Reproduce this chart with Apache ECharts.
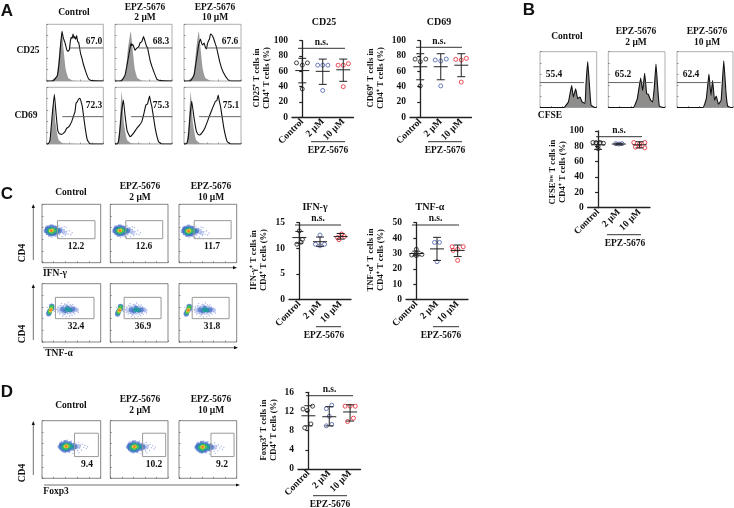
<!DOCTYPE html>
<html><head><meta charset="utf-8">
<style>html,body{margin:0;padding:0;background:#fff}#c{width:734px;height:508px}</style>
<script src="https://cdn.jsdelivr.net/npm/echarts@6/dist/echarts.min.js"></script>
</head><body><div id="c"></div>
<script>
// ---------- data ----------
const groupLabels = ['Control','2 μM','10 μM'];
const groupColors = ['#1a1a1a','#4a5cab','#e8202c'];
// histogram curves: [fluorescence, count]
const cd25Stim = [
 [[0,0],[20,1],[32,16],[38,61],[42,111],[46,149],[50,129],[53,120],[56,111],[60,95],[63,89],[68,93],[71,120],[74,131],[77,128],[79,141],[82,128],[84,133],[87,125],[90,136],[93,118],[96,116],[102,81],[106,68],[110,51],[118,26],[126,6],[135,1],[170,0]],
 [[0,0],[20,1],[30,18],[38,60],[45,100],[48,112],[50,106],[53,110],[55,105],[60,92],[64,98],[68,100],[72,106],[75,115],[80,118],[85,133],[90,118],[94,104],[97,100],[105,60],[110,44],[115,30],[125,5],[135,1],[170,0]],
 [[0,0],[20,1],[30,18],[38,70],[44,110],[49,126],[53,112],[56,108],[60,114],[64,100],[67,96],[70,112],[73,120],[76,126],[79,141],[83,138],[87,131],[92,116],[97,101],[107,56],[117,26],[132,3],[140,0],[170,0]]];
const cd25Iso = [
 [[12,0],[30,16],[38,91],[46,149],[50,101],[57,36],[65,9],[80,1],[170,0]],
 [[12,0],[30,16],[38,91],[47,149],[52,101],[59,36],[67,9],[82,1],[170,0]],
 [[10,0],[28,16],[36,91],[44,149],[49,101],[56,36],[64,9],[80,1],[170,0]]];
const cd69Stim = [
 [[0,0],[5,1],[10,12],[17,92],[23,149],[28,92],[33,42],[36,34],[40,30],[45,29],[50,32],[55,37],[60,47],[67,52],[75,67],[80,82],[85,97],[88,122],[92,127],[96,135],[100,137],[103,128],[107,112],[115,52],[122,12],[130,1],[170,0]],
 [[0,0],[8,1],[13,25],[19,92],[25,132],[30,85],[36,40],[45,22],[55,32],[65,47],[72,55],[80,67],[86,90],[92,117],[97,120],[103,144],[106,128],[110,112],[120,47],[130,7],[140,0],[170,0]],
 [[0,0],[8,1],[13,20],[18,85],[23,129],[29,85],[36,42],[41,30],[47,27],[54,34],[62,47],[70,68],[77,87],[87,112],[94,128],[98,130],[102,147],[105,130],[109,112],[119,47],[129,7],[140,0],[170,0]]];
const cd69Iso = [
 [[8,0],[15,60],[21,135],[27,60],[36,12],[50,2],[170,0]],
 [[8,0],[14,60],[20,157],[27,60],[36,12],[50,2],[170,0]],
 [[8,0],[14,60],[20,157],[27,60],[36,12],[50,2],[170,0]]];
const cfseCurves = [
 [[0,0],[72,0],[85,17],[90,42],[95,67],[100,32],[107,57],[113,27],[120,32],[126,17],[135,12],[138,72],[143,140],[148,72],[153,7],[165,0],[170,0]],
 [[0,0],[75,0],[87,27],[97,90],[103,52],[109,104],[115,42],[120,40],[127,22],[133,17],[138,62],[143,132],[148,62],[153,4],[165,0],[170,0]],
 [[0,0],[79,0],[89,27],[97,102],[103,37],[108,82],[114,22],[119,35],[126,10],[134,22],[142,142],[149,42],[154,4],[165,0],[170,0]]];
const cd25Pct = ['67.0','68.3','67.6'];
const cd69Pct = ['72.3','75.3','75.1'];
const cfsePct = ['55.4','65.2','62.4'];
const ifnPct = ['12.2','12.6','11.7'];
const tnfPct = ['32.4','36.9','31.8'];
const foxPct = ['9.4','10.2','9.2'];
// flow density points, by density level (faint dots, halo, blue, teal, green, yellow, orange)
const ifnCloud = [
 [[8,92],[12,104],[14,86],[18,110],[20,80],[24,112],[30,76],[34,112],[40,108],[42,80],[46,100],[50,110],[52,84],[56,92],[58,104],[62,88],[66,100],[70,82],[74,94],[78,86],[82,96],[86,84],[90,90],[66,108],[72,106],[48,76],[60,78]],
 [[10,96],[16,106],[28,110],[40,104],[50,90],[56,100],[62,94],[68,90],[24,84],[38,84]],
 [[14,96],[16,102],[18,90],[20,102],[26,86],[28,106],[32,88],[36,88],[38,104],[44,92],[46,98],[52,96]],
 [[20,96],[23,92],[25,100],[28,90],[28,101],[34,94],[38,97],[44,96]],
 [[23,96],[29,92],[32,99],[36,96]],
 [[26,96],[30,97]],
 [[28,96]]];
const tnfCloud = [
 [[44,98],[47,90],[48,106],[52,84],[54,110],[56,94],[58,116],[60,88],[62,78],[64,108],[66,82],[68,114],[70,88],[72,76],[74,110],[76,84],[78,118],[80,106],[82,78],[84,112],[86,84],[88,108],[90,80],[92,112],[94,88],[96,106],[98,84],[100,100],[102,92],[105,96],[108,88],[14,88],[16,104],[34,112],[36,100],[38,92],[40,108]],
 [[50,98],[56,92],[60,104],[66,88],[72,108],[80,90],[86,104],[92,92],[98,100],[104,96],[18,86],[32,108]],
 [[62,98],[70,94],[76,102],[84,96],[92,98],[20,84],[22,92],[28,108],[30,100]],
 [[74,98],[82,97],[22,88],[24,94],[27,100],[30,106]],
 [[23,90],[25,96],[27,102],[29,105]],
 [[25,94],[27,98]],
 [[26,96]]];
const foxCloud = [
 [[50,96],[54,88],[54,106],[58,112],[60,82],[66,114],[70,78],[76,116],[82,80],[88,114],[94,84],[96,108],[100,90],[102,102],[106,84],[108,110],[112,92],[114,100],[118,86],[120,104],[124,94],[128,100],[132,90],[136,96],[110,78],[92,76]],
 [[52,96],[58,106],[70,110],[82,104],[92,90],[98,102],[104,94],[110,98],[66,84],[80,84]],
 [[56,96],[58,101],[60,90],[62,102],[68,86],[70,108],[74,88],[78,88],[82,106],[88,92],[92,100],[98,96]],
 [[62,96],[65,92],[67,101],[70,90],[70,102],[78,94],[82,100],[88,96]],
 [[66,96],[72,92],[74,101],[80,97]],
 [[70,97],[74,97]],
 [[72,97]]];
const ifnShift = [[0,0],[1,0],[1,-1]];
const tnfShift = [[0,0],[2,-1],[2,-1]];
const foxShift = [[0,0],[1,-1],[0,-2]];
// dot plots: offset from the group centre, value
const cd25Pts = [[[-.28,71],[0,68],[.25,71],[0,37]],[[-.25,68],[0,68],[.25,68],[0,35]],[[-.25,68],[0,68],[.25,70],[0,40]]];
const cd25Mean = [61,60,62], cd25Low=[45,43,47], cd25High=[77,76,76];
const cd69Pts = [[[-.25,76],[0,72.6],[.27,76],[0,41]],[[-.27,74.8],[0,73.5],[.27,76],[0,41]],[[-.27,75.6],[0,74.8],[.25,77],[0,46]]];
const cd69Mean = [66,66,68], cd69Low=[49,49,53], cd69High=[83,83,83];
const cfsePts = [[[-.25,85],[-.1,85],[.1,85],[.26,84],[0,77],[0,80]],[[-.15,83.5],[0,83],[.15,83.5]],[[-.28,85],[.25,85],[-.2,79],[.25,78],[0,80],[0,83]]];
const cfseMean = [82,83,82], cfseLow=[76,82,78], cfseHigh=[86,84,86];
const ifnPts = [[[0,13.4],[.15,11.75],[-.12,10.8],[.08,11.2]],[[0,12.6],[-.22,10.8],[0,10.5],[.22,10.8]],[[.04,12.8],[-.15,12.1],[.18,12.3],[-.08,11.7]]];
const ifnMean = [12.1,11.3,12.3], ifnLow=[11,10.4,11.8], ifnHigh=[13.3,12.2,12.9];
const tnfPts = [[[0,32.7],[-.22,29],[0,28.6],[.27,29.4],[0,30]],[[-.12,37.2],[.12,37.2],[0,24.7]],[[-.27,34.4],[.27,34.4],[0,32.7],[-.22,32],[0,25.5]]];
const tnfMean = [30,33,32], tnfLow=[28.5,25.5,28], tnfHigh=[31.5,40.5,35.5];
const foxPts = [[[-.26,12.5],[-.05,12.2],[.2,13.1],[.12,9.4],[-.18,8.6]],[[-.14,12.6],[.12,13.3],[0,11],[.12,9.3],[-.14,9]],[[-.24,13.1],[0,13.1],[.25,13.1],[.16,10.6],[-.12,9.9]]];
const foxMean = [11.1,10.9,11.9], foxLow=[9,9,10], foxHigh=[13.2,13,13.4];

// ---------- helpers ----------
const SERIF='"Liberation Serif"';
const grid=[],xAxis=[],yAxis=[],series=[],graphic=[];
function text(x,y,s,size=9.5,rot=0,family=SERIF,anchor='center'){
  graphic.push({type:'text',x,y,rotation:rot,silent:true,style:{text:s,fill:'#111',textAlign:anchor,textVerticalAlign:'middle',font:`bold ${size}px ${family}`}});
}
function seg(x0,y0,x1,y1,w=1,c='#222'){
  graphic.push({type:'line',silent:true,shape:{x1:x0,y1:y0,x2:x1,y2:y1},style:{stroke:c,lineWidth:w}});
}
function arrow(x0,y0,x1,y1){
  seg(x0,y0,x1,y1,.7,'#333');
  const up=x0===x1;
  const pts=up?[[x1,y1-2],[x1-1.6,y1+2],[x1+1.6,y1+2]]:[[x1+2,y1],[x1-2,y1-1.6],[x1-2,y1+1.6]];
  graphic.push({type:'polygon',silent:true,shape:{points:pts},style:{fill:'#111'}});
}
function box(b,max,interval,border){
  const i=grid.length;
  grid.push({show:true,left:b[0],top:b[1],width:b[2]-b[0],height:b[3]-b[1],borderColor:border,borderWidth:.8,backgroundColor:'#fff'});
  const ax={gridIndex:i,type:'value',min:0,max,interval,splitLine:{show:false},axisLabel:{show:false},
    axisLine:{show:false},axisTick:{show:true,inside:true,length:1.5,lineStyle:{color:'#555',width:.6}}};
  xAxis.push({...ax});yAxis.push({...ax});
  return {xAxisIndex:xAxis.length-1,yAxisIndex:yAxis.length-1};
}
function histo(b,curve,iso,gate,pct,pctPos,fillCurve){
  const a=box(b,170,34,'#999');
  if(iso) series.push({type:'line',...a,data:iso,symbol:'none',smooth:.15,lineStyle:{width:0},areaStyle:{color:'#9b9b9b',opacity:1},z:2});
  series.push({type:'line',...a,data:curve,symbol:'none',smooth:.1,lineStyle:{color:'#111',width:1.1},
     areaStyle:fillCurve?{color:'#8f8c8c',opacity:1}:undefined,z:3});
  series.push({type:'line',...a,data:gate,symbol:'none',lineStyle:{color:'#555',width:.9},z:4});
  text(pctPos[0],pctPos[1],pct,9.5);
}
const levelStyle=[[1.3,'#7f92d8',.75],[4.5,'#94a6e4',.5],[5,'#3f6ac4',.7],[4.6,'#1f9c9c',.9],[4,'#45bf55',1],[3.6,'#e6d63a',1],[2.8,'#f0802c',1]];
function flow(b,cloud,shift,gate,pct,pctPos){
  const a=box(b,175,35,'#666');
  cloud.forEach((pts,l)=>{
    series.push({type:'scatter',...a,symbolSize:levelStyle[l][0],itemStyle:{color:levelStyle[l][1],opacity:levelStyle[l][2]},
      data:pts.map(p=>[p[0]+shift[0],p[1]+shift[1]]),z:3+l});
  });
  const [x0,x1,y0,y1]=gate;
  series.push({type:'line',...a,data:[[x0,y0],[x1,y0],[x1,y1],[x0,y1],[x0,y0]],symbol:'none',lineStyle:{color:'#999',width:1},z:11});
  text(pctPos[0],pctPos[1],pct,9.5);
}
function dots(px,yMax,yInt,pts,mean,low,high){
  const i=grid.length;
  grid.push({left:px[0],top:px[1],width:px[2]-px[0],height:px[3]-px[1]});
  xAxis.push({gridIndex:i,type:'category',data:groupLabels,position:'bottom',
    axisLine:{lineStyle:{color:'#222',width:1.3}},axisTick:{alignWithLabel:true,length:3,lineStyle:{color:'#222',width:1.2}},
    axisLabel:{rotate:45,interval:0,margin:3,color:'#111',fontFamily:SERIF,fontWeight:'bold',fontSize:9.5}});
  xAxis.push({gridIndex:i,type:'value',min:-.5,max:2.5,show:false});
  yAxis.push({gridIndex:i,type:'value',min:0,max:yMax,interval:yInt,splitLine:{show:false},
    axisLine:{show:true,lineStyle:{color:'#222',width:1.3}},axisTick:{show:true,length:3,lineStyle:{color:'#222',width:1.2}},
    axisLabel:{margin:4,color:'#111',fontFamily:SERIF,fontWeight:'bold',fontSize:9.5}});
  const xi=xAxis.length-1, yi=yAxis.length-1;
  groupLabels.forEach((_,g)=>{
    series.push({type:'scatter',xAxisIndex:xi,yAxisIndex:yi,symbol:'circle',symbolSize:4,z:4,
      itemStyle:{color:'rgba(255,255,255,0)',borderColor:groupColors[g],borderWidth:1},data:pts[g].map(p=>[g+p[0],p[1]])});
  });
  series.push({type:'custom',xAxisIndex:xi,yAxisIndex:yi,z:5,silent:true,
    encode:{x:0,y:[1,2,3]},
    data:mean.map((m,g)=>[g,m,low[g],high[g]]),
    renderItem(params,api){
      const g=api.value(0);
      const c=api.coord([g,api.value(1)]),l=api.coord([g,api.value(2)]),h=api.coord([g,api.value(3)]);
      const st={stroke:'#222',lineWidth:1};
      const L=(a,b,d,e)=>({type:'line',shape:{x1:a,y1:b,x2:d,y2:e},style:st});
      return {type:'group',children:[L(c[0],l[1],c[0],h[1]),L(c[0]-7,c[1],c[0]+7,c[1]),L(c[0]-4,l[1],c[0]+4,l[1]),L(c[0]-4,h[1],c[0]+4,h[1])]};
    }});
}
function annot(ns,under,epz,yName,nameY){
  seg(ns[0],ns[2],ns[1],ns[2],1,'#333');
  text((ns[0]+ns[1])/2,ns[2]-6,'n.s.',9.5);
  seg(under[0],under[2],under[1],under[2],1,'#333');
  text(epz[0],epz[1],'EPZ-5676',9.5);
  text(nameY[0],nameY[2],yName[0],8.6,Math.PI/2);
  text(nameY[1],nameY[2],yName[1],8.6,Math.PI/2);
}
function heads(xs,yCtrl,yEpz,yDose){
  text(xs[0],yCtrl,'Control',9.5);
  text(xs[1],yEpz,'EPZ-5676',9.5);text(xs[1],yDose,'2 μM',9.5);
  text(xs[2],yEpz,'EPZ-5676',9.5);text(xs[2],yDose,'10 μM',9.5);
}

// ---------- panel A ----------
const LET='"Liberation Sans"';
text(7,11,'A',17,0,LET);text(529,10,'B',17,0,LET);text(7,194,'C',17,0,LET);text(7,392,'D',17,0,LET);
heads([74,145,215],13,8,18);
text(28,51,'CD25');text(26,116,'CD69');
const colA=[[46.7,103.3],[115,172],[184,241]];
const gate25=[[[70,99],[170,99]],[[70,99],[171,99]],[[65,99],[169,99]]];
const gate69=[[[47,82],[170,82]],[[48,82],[171,82]],[[45,82],[169,82]]];
const pctA25=[[94,42],[161,42],[230,42]],pctA69=[[94,106],[161,106],[231,106]];
colA.forEach((c,i)=>{
  histo([c[0],24.3,c[1],81],cd25Stim[i],cd25Iso[i],gate25[i],cd25Pct[i],pctA25[i]);
  histo([c[0],87.3,c[1],144],cd69Stim[i],cd69Iso[i],gate69[i],cd69Pct[i],pctA69[i]);
});
text(324,22,'CD25',10);text(439,22,'CD69',10);
dots([292,40.7,353.5,117.3],100,20,cd25Pts,cd25Mean,cd25Low,cd25High);
annot([298,345,48.3],[311,345,141.7],[328,151],['CD25⁺ T cells in','CD4⁺ T cells (%)'],[256.7,266.7,78]);
dots([410,40.7,471.5,117.3],100,20,cd69Pts,cd69Mean,cd69Low,cd69High);
annot([416,462,47.3],[428,462,141.7],[445,151],['CD69⁺ T cells in','CD4⁺ T cells (%)'],[370.7,380.7,78]);

// ---------- panel B ----------
heads([567,636,707],37,32,43);
const colB=[[540,596.7],[608.3,665],[677,733]];
const gateB=[[[0,76],[132,76]],[[0,76],[133,76]],[[0,76],[133,76]]];
const pctB=[[554,75],[623,75],[691,75]];
colB.forEach((c,i)=>histo([c[0],51.7,c[1],107.5],cfseCurves[i],null,gateB[i],cfsePct[i],pctB[i],true));
text(550,116,'CFSE');
dots([587.7,131,650,207.7],100,20,cfsePts,cfseMean,cfseLow,cfseHigh);
annot([596,642,136.7],[607,641,234.7],[625,244],['CFSEˡᵒʷ T cells in','CD4⁺ T cells (%)'],[553,563,172]);

// ---------- panel C ----------
heads([71,140,211],193,187,198);
const colC=[[42,100.7],[110.3,168],[179,236.7]];
const gateIfn=[[46,158,72,126],[47,159,72,126],[46,158,72,126]];
const gateTnf=[[40,155,70,134],[42,154,70,134],[40,152,70,134]];
const pctIfnPos=[[76,247],[144,247],[212,247]],pctTnfPos=[[76,327],[143,327],[212,327]];
colC.forEach((c,i)=>{
  flow([c[0],204.3,c[1],262.7],ifnCloud,ifnShift[i],gateIfn[i],ifnPct[i],pctIfnPos[i]);
  flow([c[0],283.7,c[1],342],tnfCloud,tnfShift[i],gateTnf[i],tnfPct[i],pctTnfPos[i]);
});
arrow(33.3,260,33.3,206);arrow(43,267.7,235,267.7);
arrow(33.3,340,33.3,286);arrow(43,347.7,236,347.7);
text(23,253,'CD4',9.5,Math.PI/2,SERIF);text(23,334,'CD4',9.5,Math.PI/2,SERIF);
text(55,274,'IFN-γ');text(59,354,'TNF-α');
text(315,207,'IFN-γ',10);text(430,207,'TNF-α',10);
dots([289,222.7,351,299.7],15,5,ifnPts,ifnMean,ifnLow,ifnHigh);
annot([295,341,225],[316,341,326.7],[324,336],['IFN-γ⁺ T cells in','CD4⁺ T cells (%)'],[254,264,260]);
dots([406,222.7,468,299.7],50,10,tnfPts,tnfMean,tnfLow,tnfHigh);
annot([412,459,225],[433,459,326.7],[441,336],['TNF-α⁺ T cells in','CD4⁺ T cells (%)'],[371,381,260]);

// ---------- panel D ----------
heads([71,140,211],406,400,411);
const gateFox=[[97,168,66,137],[98,168,66,137],[97,167,66,137]];
const pctFoxPos=[[87,465],[154,465],[222,465]];
colC.forEach((c,i)=>flow([c[0],420.7,c[1],478.3],foxCloud,foxShift[i],gateFox[i],foxPct[i],pctFoxPos[i]));
arrow(33.3,475,33.3,423);arrow(44,485,238,485);
text(23,473,'CD4',9.5,Math.PI/2,SERIF);text(56,492,'Foxp3');
dots([298,392.3,360.5,469],16,4,foxPts,foxMean,foxLow,foxHigh);
annot([306,353,395.7],[313,347,495.7],[330,505],['Foxp3⁺ T cells in','CD4⁺ T cells (%)'],[264,274,430]);

const chart=echarts.init(document.getElementById('c'),null,{renderer:'canvas'});
chart.setOption({animation:false,backgroundColor:'#fff',grid,xAxis,yAxis,series,graphic:{elements:graphic}});
</script></body></html>
